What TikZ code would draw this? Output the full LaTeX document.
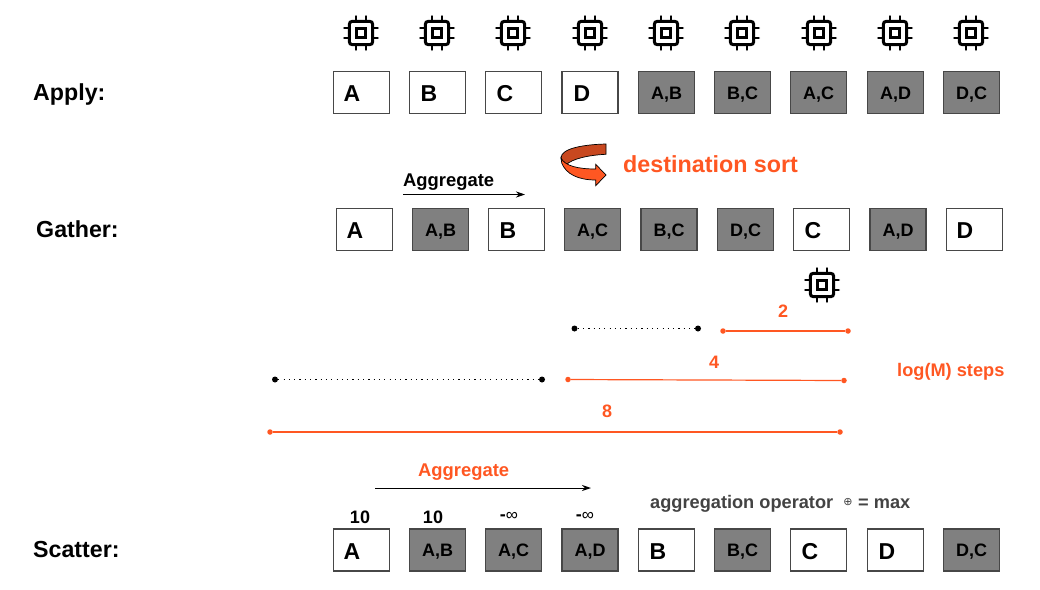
\documentclass[tikz,border=0pt]{standalone}
\usepackage{fontspec}
\setmainfont{Liberation Sans}
\newfontfamily\symfont{DejaVu Sans}
\usetikzlibrary{arrows.meta}
\definecolor{oran}{HTML}{FF5722}
\definecolor{darkor}{HTML}{C8481F}
\definecolor{boxgray}{HTML}{808080}
\definecolor{txtgray}{HTML}{434343}
\tikzset{
  x=1pt,y=-1pt,
  cell/.style={draw=black!72,line width=1.1pt,minimum width=56pt,minimum height=42pt,inner sep=0pt,fill=white},
  edgecell/.style={cell,fill=boxgray},
  celltext/.style={font=\fontsize{18}{18}\selectfont\bfseries,text height=13pt,text depth=0pt},
  lettertext/.style={font=\fontsize{23}{23}\selectfont\bfseries,inner sep=0pt,anchor=center},
  rowlabel/.style={font=\fontsize{23.2}{23}\selectfont\bfseries,inner sep=0pt,anchor=base west},
  agg/.style={font=\fontsize{18.4}{18}\selectfont\bfseries,inner sep=0pt,anchor=base west},
  orangetext/.style={text=oran},
  num/.style={font=\fontsize{18}{18}\selectfont\bfseries,inner sep=0pt,anchor=center},
  odot/.style={circle,fill=oran,inner sep=0pt,minimum size=5.5pt},
  kdot/.style={circle,fill=black,inner sep=0pt,minimum size=6pt},
  solidspan/.style={draw=oran,line width=1.2pt},
  dotspan/.style={draw=black,line width=1.2pt,dash pattern=on 1.2pt off 4.1pt},
  flow/.style={draw=black,line width=1pt,-{Stealth[length=9pt,width=6pt]}},
  chip/.pic={
    \draw[line width=3pt,rounded corners=3pt] (-11.7,-11.7) rectangle (11.7,11.7);
    \draw[line width=3pt] (-4.7,-4.7) rectangle (4.7,4.7);
    \foreach \d in {-5,5}{
      \draw[line width=2.8pt,line cap=round] (\d,-16.6) -- (\d,-13);
      \draw[line width=2.8pt,line cap=round] (\d,13) -- (\d,16.6);
      \draw[line width=2.8pt,line cap=round] (-16.6,\d) -- (-13,\d);
      \draw[line width=2.8pt,line cap=round] (13,\d) -- (16.6,\d);
    }
  }
}
\begin{document}
\begin{tikzpicture}
\useasboundingbox (0,0) rectangle (1040,589);
\fill[white] (0,0) rectangle (1040,589);

% row labels
\node[rowlabel] (applylabel) at (33,100) {Apply:};
\node[rowlabel] (gatherlabel) at (36,237) {Gather:};
\node[rowlabel] (scatterlabel) at (33,557) {Scatter:};

% chips
\foreach \n/\cx in {1/361,2/437,3/513,4/590,5/666,6/742,7/819,8/895,9/971}
  \pic (chipa\n) at (\cx,33) {chip};
\pic (chipb) at (822,285) {chip};

% apply row
\foreach \n/\bx in {1/361.5,2/437.5,3/513.5,4/590}
  \node[cell] (a\n) at (\bx,92.5) {};
\foreach \n/\bx/\t in {5/666.5/{A,B},6/742.5/{B,C},7/818.5/{A,C},8/895.5/{A,D},9/971.5/{D,C}}
  \node[edgecell,celltext] (a\n) at (\bx,92.5) {\t};
\node[lettertext] (a1t) at (352,94) {A};
\node[lettertext] (a2t) at (429,94) {B};
\node[lettertext] (a3t) at (505,94) {C};
\node[lettertext] (a4t) at (582,94) {D};

% sort arrow
\fill[darkor,draw=black,line width=.7pt] (606,144) .. controls (585,144.5) and (561,148) .. (561,158)
   .. controls (561,160) and (563,163) .. (566,165)
   .. controls (572,158.5) and (590,155) .. (606,154.3) -- cycle;
\path[fill=oran,draw=black,line width=.7pt] (561,158) .. controls (561,160) and (561,161) .. (561.7,163)
  .. controls (566,174) and (578,180) .. (595.7,180)
  -- (595.7,185.7) -- (606,175) -- (595.7,164.3) -- (595.7,169)
  .. controls (578,169) and (565,166) .. (561,158) -- cycle;
\node[agg,orangetext,font=\fontsize{23.3}{23}\selectfont\bfseries] (sorttext) at (623,172) {destination sort};

% gather row
\node[agg] (agg1) at (403,186) {Aggregate};
\coordinate (agg1s) at (403,194.5);
\coordinate (agg1e) at (525,194.5);
\draw[flow] (agg1s) -- (agg1e);
\foreach \n/\bx/\st/\t in {1/364.5/cell/{},2/440.5/edgecell/{A,B},3/516.5/cell/{},4/592.5/edgecell/{A,C},5/669/edgecell/{B,C},6/745.5/edgecell/{D,C},7/821.5/cell/{},8/898/edgecell/{A,D},9/974.5/cell/{}}
  \node[\st,celltext] (g\n) at (\bx,229.5) {\t};
\node[lettertext] (g1t) at (355,231) {A};
\node[lettertext] (g3t) at (508,231) {B};
\node[lettertext] (g7t) at (813,231) {C};
\node[lettertext] (g9t) at (965,231) {D};

% spans
\node[kdot] (s1a) at (574.5,328.5) {}; \node[kdot] (s1b) at (698,328.5) {};
\draw[dotspan] (s1a) -- (s1b);
\node[odot] (s2a) at (723,331) {}; \node[odot] (s2b) at (848,331) {};
\draw[solidspan] (s2a) -- (s2b);
\node[num,orangetext] (n2) at (783,311) {2};
\node[kdot] (s3a) at (275,379.5) {}; \node[kdot] (s3b) at (542,379.5) {};
\draw[dotspan] (s3a) -- (s3b);
\node[odot] (s4a) at (568,379.5) {}; \node[odot] (s4b) at (844,380.5) {};
\draw[solidspan] (s4a) -- (s4b);
\node[num,orangetext] (n4) at (714,362) {4};
\node[odot] (s5a) at (270,432) {}; \node[odot] (s5b) at (840,432) {};
\draw[solidspan] (s5a) -- (s5b);
\node[num,orangetext] (n8) at (607,411) {8};
\node[agg,orangetext,font=\fontsize{18.2}{18}\selectfont\bfseries] (logm) at (897,376) {log(M) steps};

% scatter
\node[agg,orangetext] (agg2) at (418,476) {Aggregate};
\coordinate (agg2s) at (375,488); \coordinate (agg2e) at (591,488);
\draw[flow] (agg2s) -- (agg2e);
\node[num] (v1) at (360,517) {10};
\node[num] (v2) at (433,517) {10};
\node[num] (v3) at (509,516) {-{\mdseries\fontsize{17}{15}\selectfont ∞}};
\node[num] (v4) at (585,516) {-{\mdseries\fontsize{17}{15}\selectfont ∞}};
\node[agg,text=txtgray,font=\fontsize{18.2}{18}\selectfont\bfseries] (optext) at (650,508) {aggregation operator};
\node[inner sep=0pt,text=txtgray,font=\symfont\fontsize{11}{11}\selectfont] (oplus) at (848,502) {⊕};
\node[agg,text=txtgray,font=\fontsize{18.2}{18}\selectfont\bfseries] (optext2) at (858,508) {= max};
\foreach \n/\bx/\st/\t in {1/361.5/cell/{},2/437.5/edgecell/{A,B},3/513.5/edgecell/{A,C},4/590/edgecell/{A,D},5/666.5/cell/{},6/742.5/edgecell/{B,C},7/818.5/cell/{},8/895.5/cell/{},9/971.5/edgecell/{D,C}}
  \node[\st,celltext] (c\n) at (\bx,550) {\t};
\node[lettertext] (c1t) at (352,552) {A};
\node[lettertext] (c5t) at (658,552) {B};
\node[lettertext] (c7t) at (810,552) {C};
\node[lettertext] (c8t) at (887,552) {D};
\end{tikzpicture}
\end{document}
